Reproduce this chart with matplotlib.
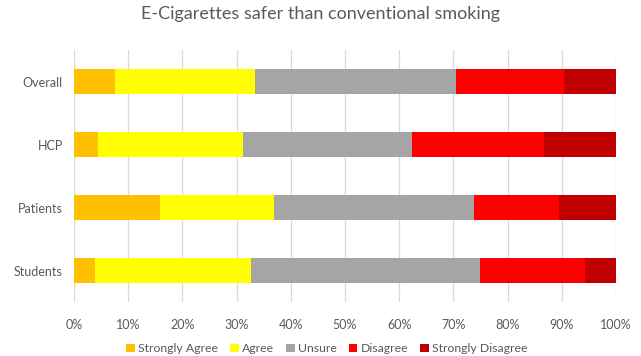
import numpy as np
import matplotlib
matplotlib.use("Agg")
import matplotlib.pyplot as plt
from matplotlib.ticker import PercentFormatter

plt.rcParams['font.family'] = ['Lato', 'DejaVu Sans']

groups = ["Overall", "HCP", "Patients", "Students"]
responses = ["Strongly Agree", "Agree", "Unsure", "Disagree", "Strongly Disagree"]
colors = ["#FFC000", "#FFFF00", "#A5A5A5", "#FF0000", "#C00000"]

# percent per group
strongly_agree = [7.5, 4.4, 15.9, 3.9]
agree = [25.9, 26.8, 21.0, 28.8]
unsure = [37.0, 31.1, 36.9, 42.3]
disagree = [20.0, 24.4, 15.7, 19.3]
strongly_disagree = [9.6, 13.3, 10.5, 5.7]

series = [strongly_agree, agree, unsure, disagree, strongly_disagree]

fig = plt.figure(figsize=(6.41, 3.56), dpi=100)
ax = fig.add_axes([0.1154, 0.1517, 0.961 - 0.1154, 0.8587 - 0.1517])

y = np.arange(len(groups))
left = np.zeros(len(groups))
for name, vals, c in zip(responses, series, colors):
    vals = np.array(vals)
    ax.barh(y, vals, left=left, height=0.4, color=c, label=name, zorder=2)
    left += vals

ax.set_ylim(len(groups) - 0.5, -0.5)
ax.set_xlim(0, 100)
ax.set_yticks(y)
ax.set_yticklabels(groups)
ax.set_xticks(np.arange(0, 101, 10))
ax.xaxis.set_major_formatter(PercentFormatter(decimals=0))
ax.grid(axis='x', color='#D9D9D9', linewidth=0.9, zorder=0)
for s in ax.spines.values():
    s.set_visible(False)
ax.tick_params(axis='both', length=0, labelsize=9, colors='#595959')
ax.tick_params(axis='x', pad=12)
ax.tick_params(axis='y', pad=8)

fig.text(0.5, 0.96, "E-Cigarettes safer than conventional smoking",
         ha='center', va='center', fontsize=13, color='#595959')

fig.legend(loc='center', bbox_to_anchor=(0.51, 0.02), ncol=5, frameon=False,
           fontsize=8.8, handlelength=0.7, handleheight=0.7, handletextpad=0.25,
           columnspacing=1.0, labelcolor='#595959')

fig.savefig("out.png", dpi=100)
